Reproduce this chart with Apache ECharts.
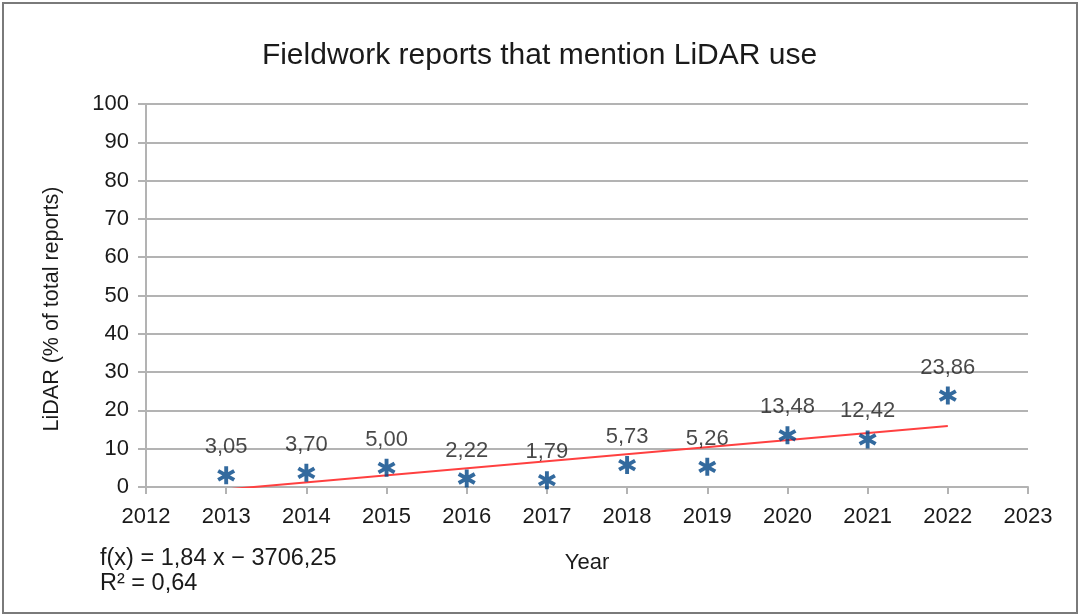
<!DOCTYPE html>
<html>
<head>
<meta charset="utf-8">
<script src="https://cdn.jsdelivr.net/npm/echarts@6/dist/echarts.min.js"></script>
<style>
html,body{margin:0;padding:0;background:#fff;}
#frame{position:absolute;left:2px;top:2px;width:1072px;height:608px;border:2px solid #7a7a7a;box-sizing:content-box;}
#chart{position:absolute;left:0;top:0;width:1079px;height:616px;}
</style>
</head>
<body>
<div id="frame"></div>
<div id="chart"></div>
<script>
const years = [2013, 2014, 2015, 2016, 2017, 2018, 2019, 2020, 2021, 2022];
const lidarPct = [3.05, 3.70, 5.00, 2.22, 1.79, 5.73, 5.26, 13.48, 12.42, 23.86];
const xTicks = [2012, 2023];
const yTicks = [0, 100];
const titleText = 'Fieldwork reports that mention LiDAR use';
const xName = 'Year';
const yName = 'LiDAR (% of total reports)';
const eqText = 'f(x) = 1,84 x \u2212 3706,25';
const r2Text = 'R\u00b2 = 0,64';

// linear regression (trend line) from the data
const n = years.length;
const mx = years.reduce((a,b)=>a+b,0)/n;
const my = lidarPct.reduce((a,b)=>a+b,0)/n;
let sxy=0, sxx=0;
for(let i=0;i<n;i++){sxy+=(years[i]-mx)*(lidarPct[i]-my);sxx+=(years[i]-mx)**2;}
const slope = sxy/sxx, icpt = my - slope*mx;
const trend = [years[0], years[n-1]].map(x=>[x, slope*x+icpt]);

// asterisk symbol path (6 arms)
function asteriskPath(){
  const L=10, w=2.1; let d='';
  [90,30,150].forEach(a=>{
    const r=a*Math.PI/180, c=Math.cos(r), s=Math.sin(r), px=-s, py=c;
    const pts=[[ L*c+w*px, L*s+w*py],[ L*c-w*px, L*s-w*py],[-L*c-w*px,-L*s-w*py],[-L*c+w*px,-L*s+w*py]];
    d+='M'+pts.map(p=>(p[0]+10).toFixed(2)+' '+(p[1]+10).toFixed(2)).join(' L')+' Z ';
  });
  return 'path://'+d;
}

const font = 'Liberation Sans, Arial, sans-serif';
const chart = echarts.init(document.getElementById('chart'));
chart.setOption({
  animation:false,
  textStyle:{fontFamily:font},
  title:{text:titleText,left:'center',top:36,textStyle:{fontFamily:font,fontSize:30,fontWeight:'normal',color:'#1a1a1a'}},
  grid:{left:146,right:51,top:104,bottom:129,containLabel:false},
  xAxis:{type:'value',min:xTicks[0],max:xTicks[1],interval:1,
    name:xName,nameLocation:'middle',nameGap:65,nameTextStyle:{fontSize:22,color:'#1a1a1a'},
    axisLine:{show:true,onZero:false,lineStyle:{color:'#b3b3b3',width:2}},
    axisTick:{show:true,length:7,lineStyle:{color:'#b3b3b3',width:2}},
    axisLabel:{fontSize:22,color:'#1a1a1a',margin:19,formatter:v=>String(v)},
    splitLine:{show:false}},
  yAxis:{type:'value',min:yTicks[0],max:yTicks[1],interval:10,
    axisLine:{show:true,lineStyle:{color:'#b3b3b3',width:2}},
    axisTick:{show:true,length:8,lineStyle:{color:'#b3b3b3',width:2}},
    axisLabel:{fontSize:22,color:'#1a1a1a',margin:17},
    splitLine:{show:true,lineStyle:{color:'#b3b3b3',width:2}}},
  series:[
    {type:'line',data:trend,symbol:'none',clip:true,lineStyle:{color:'#ff4040',width:2},z:2},
    {type:'scatter',data:years.map((y,i)=>[y,lidarPct[i]]),symbol:asteriskPath(),symbolSize:18,
      itemStyle:{color:'#004586'},z:3,
      label:{show:true,position:'top',distance:8,fontSize:22,color:'#1a1a1a',
        formatter:p=>p.value[1].toFixed(2).replace('.',',')}}
  ],
  graphic:[
    {type:'text',x:52,y:309,rotation:Math.PI/2,style:{text:yName,font:'21.5px '+font,fill:'#1a1a1a',align:'center',verticalAlign:'middle'}},
    {type:'text',left:100,top:547,style:{text:eqText,font:'23.5px '+font,fill:'#1a1a1a'}},
    {type:'text',left:100,top:572,style:{text:r2Text,font:'23.5px '+font,fill:'#1a1a1a'}}
  ]
});
</script>
</body>
</html>
